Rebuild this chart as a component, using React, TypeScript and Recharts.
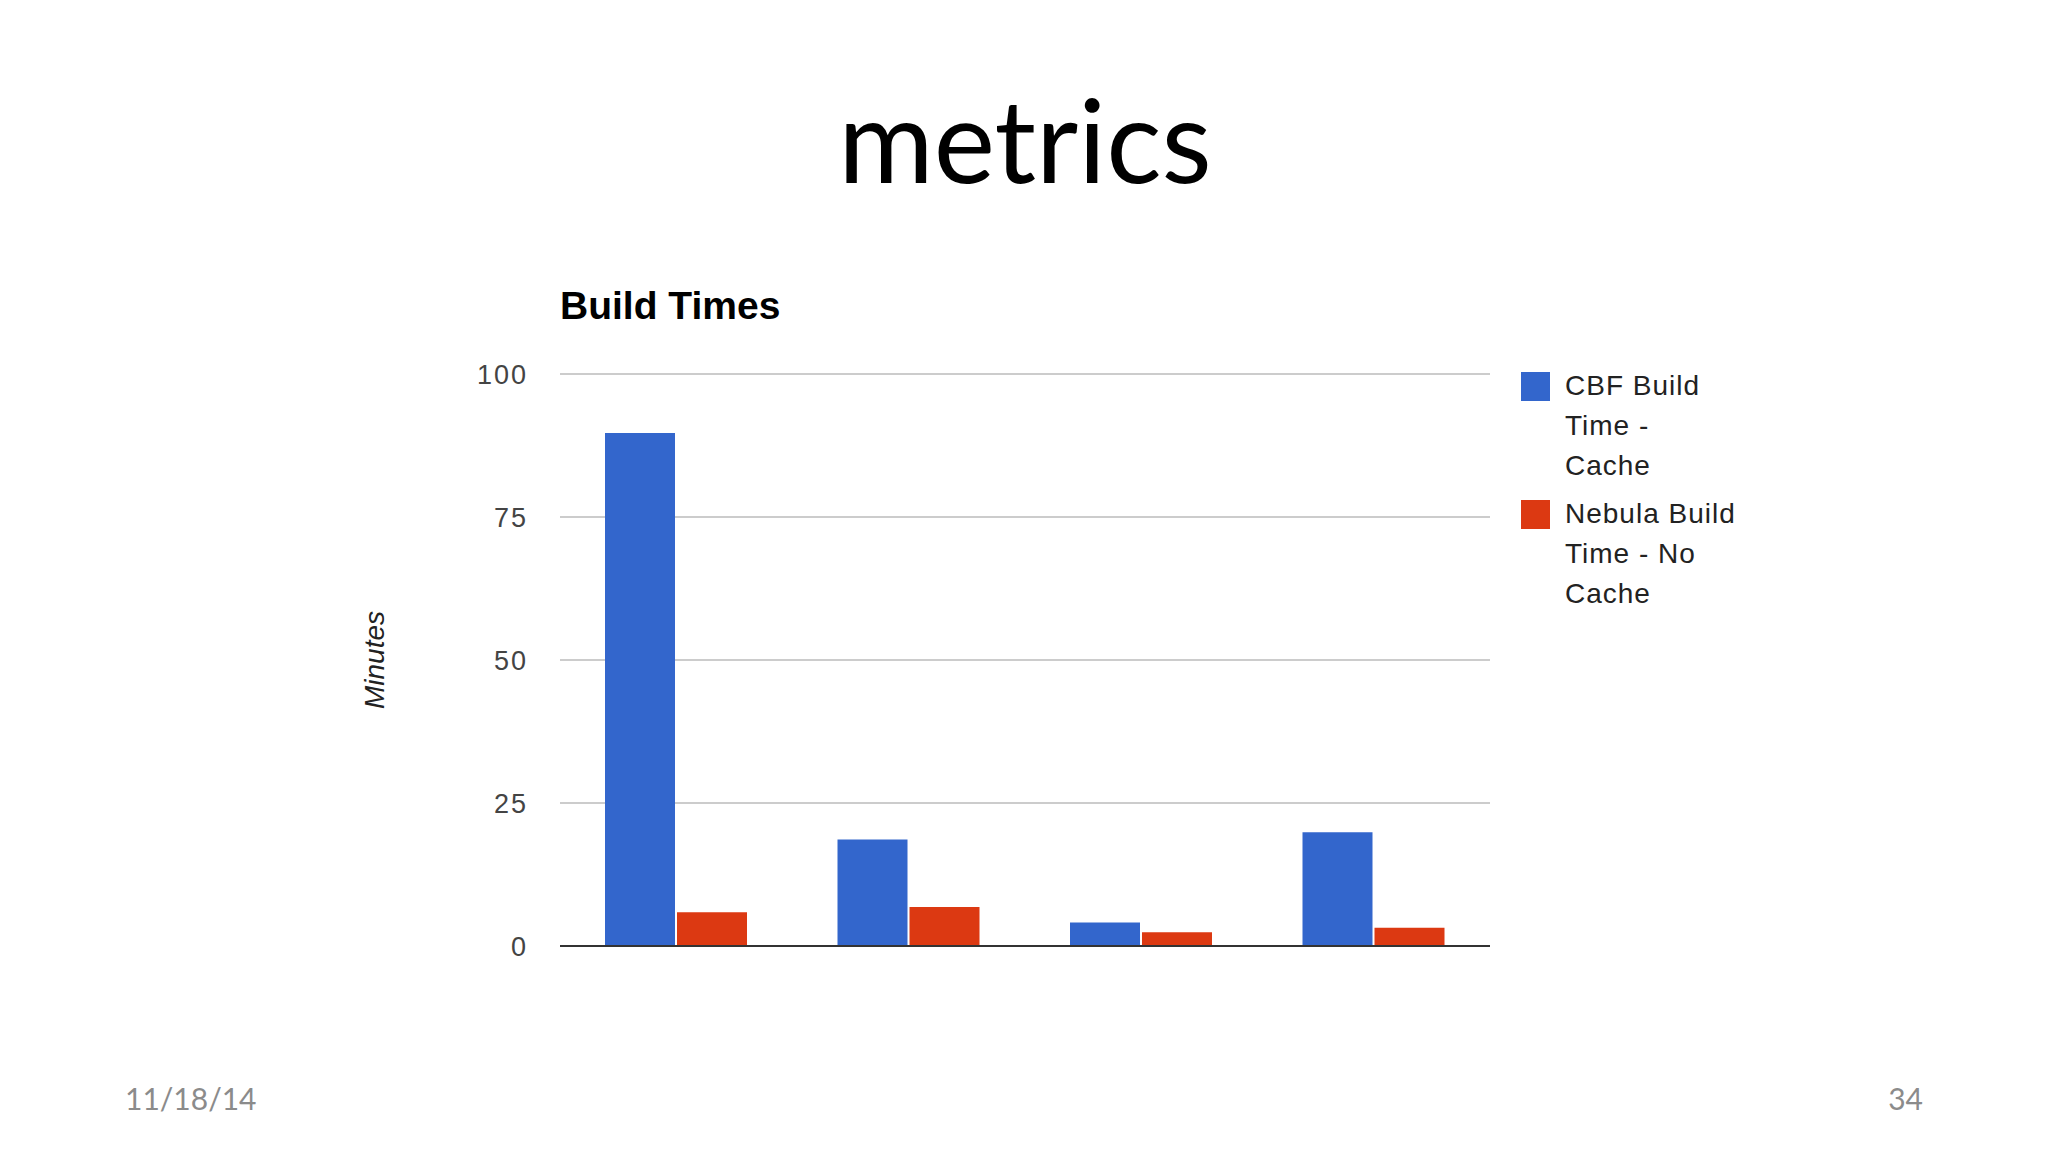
import React from 'react'
import { BarChart, Bar, XAxis, YAxis, CartesianGrid } from 'recharts'

const builds = ['Build 1', 'Build 2', 'Build 3', 'Build 4']
const cbfCache = [89.7, 18.6, 4.1, 19.9]
const nebulaNoCache = [5.9, 6.8, 2.4, 3.2]
const yTicks = [0, 25, 50, 75, 100]

const series = [
  { key: 'cbf', color: '#3366cc', lines: ['CBF Build', 'Time -', 'Cache'] },
  { key: 'nebula', color: '#dc3912', lines: ['Nebula Build', 'Time - No', 'Cache'] },
]

const data = builds.map((b, i) => ({ name: b, cbf: cbfCache[i], nebula: nebulaNoCache[i] }))

const ARIAL = '"Liberation Sans", Arial, sans-serif'

export default function App() {
  return (
    <div style={{ position: 'absolute', left: 0, top: 0, width: 2048, height: 1152, background: '#fff', overflow: 'hidden' }}>
      {/* slide texts */}
      <svg width={2048} height={1152} style={{ position: 'absolute', left: 0, top: 0 }}>
        <text x={1025} y={183} textAnchor="middle" fontFamily="Lato, sans-serif" fontSize={116} fill="#000">metrics</text>
        <text x={560} y={319} fontFamily={ARIAL} fontWeight="bold" fontSize={39} fill="#000">Build Times</text>
        <text x={125} y={1110} fontFamily="Lato, sans-serif" fontSize={30} fill="#8b8b8b">11/18/14</text>
        <text x={1923} y={1110} textAnchor="end" fontFamily="Lato, sans-serif" fontSize={30} fill="#8b8b8b">34</text>
      </svg>

      <div style={{ position: 'absolute', left: 340, top: 260 }}>
        <BarChart width={1560} height={780} data={data} margin={{ top: 114, right: 410, left: 0, bottom: 92 }} barSize={70} barGap={2}>
          <CartesianGrid horizontal vertical={false} stroke="#cccccc" strokeWidth={2} />
          <XAxis dataKey="name" tick={false} tickLine={false} height={2} axisLine={{ stroke: '#333', strokeWidth: 2 }} />
          <YAxis
            domain={[0, 100]}
            ticks={yTicks}
            width={220}
            axisLine={false}
            tickLine={false}
            tickSize={0}
            tickMargin={32}
            tick={{ fill: '#444', fontSize: 27, fontFamily: ARIAL, letterSpacing: 2 }}
            label={{ value: 'Minutes', angle: -90, position: 'insideLeft', offset: 34, style: { textAnchor: 'middle', fontStyle: 'italic', fontSize: 28, fontFamily: ARIAL, fill: '#222' } }}
          />
          <Bar dataKey="cbf" fill="#3366cc" isAnimationActive={false} />
          <Bar dataKey="nebula" fill="#dc3912" isAnimationActive={false} />
        </BarChart>
      </div>

      {/* legend */}
      <div style={{ position: 'absolute', left: 1521, top: 366, fontFamily: ARIAL, fontSize: 28, color: '#222' }}>
        {series.map((s) => (
          <div key={s.key} style={{ display: 'flex', marginBottom: 8 }}>
            <div style={{ width: 29, height: 29, background: s.color, marginTop: 6, flexShrink: 0 }} />
            <div style={{ marginLeft: 15, lineHeight: '40px', letterSpacing: 1 }}>
              {s.lines.map((l, i) => <div key={i}>{l}</div>)}
            </div>
          </div>
        ))}
      </div>
    </div>
  )
}
